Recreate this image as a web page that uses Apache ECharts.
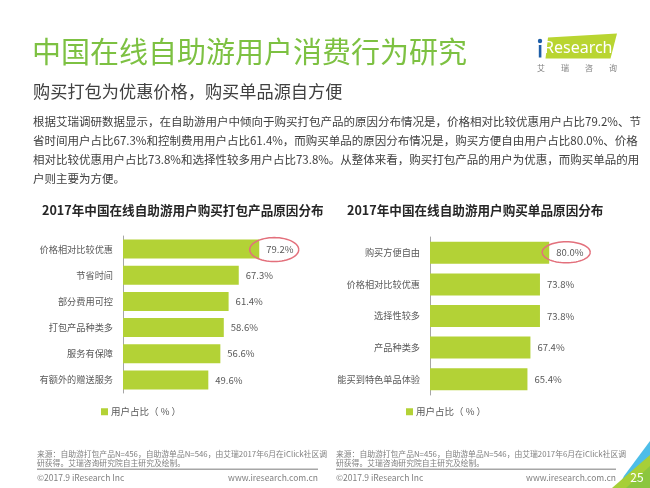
<!DOCTYPE html>
<html>
<head>
<meta charset="utf-8">
<script src="https://cdn.jsdelivr.net/npm/echarts@6/dist/echarts.min.js"></script>
<style>
html,body{margin:0;padding:0;background:#fff;}
#c{width:650px;height:488px;}
</style>
</head>
<body>
<div id="c"></div>
<script>
// ---- data ----
const pageTitle = '中国在线自助游用户消费行为研究';
const pageSubtitle = '购买打包为优惠价格，购买单品源自方便';
const bodyLines = [
  '根据艾瑞调研数据显示，在自助游用户中倾向于购买打包产品的原因分布情况是，价格相对比较优惠用户占比79.2%、节',
  '省时间用户占比67.3%和控制费用用户占比61.4%，而购买单品的原因分布情况是，购买方便自由用户占比80.0%、价格',
  '相对比较优惠用户占比73.8%和选择性较多用户占比73.8%。从整体来看，购买打包产品的用户为优惠，而购买单品的用',
  '户则主要为方便。'
];
const chartTitle1 = '2017年中国在线自助游用户购买打包产品原因分布';
const chartTitle2 = '2017年中国在线自助游用户购买单品原因分布';
const seriesName = '用户占比（ % ）';
const cats1 = ['价格相对比较优惠','节省时间','部分费用可控','打包产品种类多','服务有保障','有额外的赠送服务'];
const vals1 = [79.2, 67.3, 61.4, 58.6, 56.6, 49.6];
const cats2 = ['购买方便自由','价格相对比较优惠','选择性较多','产品种类多','能买到特色单品体验'];
const vals2 = [80.0, 73.8, 73.8, 67.4, 65.4];
const sourceLines = ['来源：自助游打包产品N=456，自助游单品N=546，由艾瑞2017年6月在iClick社区调','研获得。艾瑞咨询研究院自主研究及绘制。'];
const copyright = '©2017.9 iResearch Inc';
const website = 'www.iresearch.com.cn';
const pageNo = '25';

const FONT = '"Noto Sans CJK SC", "Noto Sans", sans-serif';
const BAR = '#b3d236';
const LABEL = '#595959';

const chart = echarts.init(document.getElementById('c'), null, {renderer:'canvas'});

function yAxisCfg(cats, gi){
  return {
    type:'category', gridIndex:gi, data:cats, inverse:true,
    axisLine:{show:true, lineStyle:{color:'#a6a6a6', width:1}},
    axisTick:{show:false},
    axisLabel:{margin:10, fontSize:9.2, color:LABEL, fontFamily:FONT}
  };
}
function seriesCfg(vals, gi, bw){
  return {
    type:'bar', name:seriesName, xAxisIndex:gi, yAxisIndex:gi, data:vals, barWidth:bw,
    itemStyle:{color:BAR},
    label:{show:true, position:'right', distance:7, fontSize:9.5, color:LABEL, fontFamily:FONT,
      formatter:p=>p.value.toFixed(1)+'%'}
  };
}
function legendCfg(left){
  return {data:[seriesName], left:left, top:407, padding:0, icon:'rect', itemWidth:7, itemHeight:7, itemGap:4,
    selectedMode:false, textStyle:{fontSize:9.5, color:LABEL, fontFamily:FONT, padding:[0,0,0,-2]}};
}

function footer(x0, x1){
  return [
    {type:'text', left:x0, top:449, style:{text:sourceLines.join('\n'), fontSize:7.8, lineHeight:9.3, fill:'#808080', fontFamily:FONT}},
    {type:'rect', shape:{x:x0, y:468.5, width:x1-x0, height:1.6}, style:{fill:'#a6a6a6'}},
    {type:'text', x:x0, y:477.5, style:{text:copyright, fontSize:8.5, fill:'#808080', fontFamily:FONT, verticalAlign:'middle'}},
    {type:'text', x:x1, y:477.5, style:{text:website, fontSize:8.5, fill:'#808080', fontFamily:FONT, align:'right', verticalAlign:'middle'}}
  ];
}

const graphics = [
  {type:'text', x:32, y:52, style:{text:pageTitle, fontSize:29, fill:'#7dc142', fontFamily:FONT, verticalAlign:'middle'}},
  {type:'text', x:33, y:91, style:{text:pageSubtitle, fontSize:17.2, fill:'#404040', fontFamily:FONT, verticalAlign:'middle'}},
  {type:'text', x:33, y:112.5, style:{text:bodyLines.join('\n'), fontSize:11.5, lineHeight:18.8, fill:'#404040', fontFamily:FONT}},
  {type:'text', x:42, y:210, style:{text:chartTitle1, fontSize:12.6, fontWeight:'bold', fill:'#262626', fontFamily:FONT, verticalAlign:'middle'}},
  {type:'text', x:347, y:210, style:{text:chartTitle2, fontSize:12.6, fontWeight:'bold', fill:'#262626', fontFamily:FONT, verticalAlign:'middle'}},
  // logo
  {type:'polygon', shape:{points:[[548,37.5],[617,33.5],[610.5,58.5],[545.5,58.5]]}, style:{fill:'#b9d531'}},
  {type:'circle', shape:{cx:540, cy:41, r:2.2}, style:{fill:'#1f5fa8'}},
  {type:'rect', shape:{x:538.8, y:45, width:2.6, height:12.5}, style:{fill:'#1f5fa8'}},
  {type:'text', x:544, y:48.5, style:{text:'Research', fontSize:16, fill:'#ffffff', fontFamily:'"Noto Sans", sans-serif', verticalAlign:'middle'}},
  {type:'text', x:541, y:68, style:{text:'艾', fontSize:8, fill:'#808080', fontFamily:FONT, align:'center', verticalAlign:'middle'}},
  {type:'text', x:565, y:68, style:{text:'瑞', fontSize:8, fill:'#808080', fontFamily:FONT, align:'center', verticalAlign:'middle'}},
  {type:'text', x:589, y:68, style:{text:'咨', fontSize:8, fill:'#808080', fontFamily:FONT, align:'center', verticalAlign:'middle'}},
  {type:'text', x:613, y:68, style:{text:'询', fontSize:8, fill:'#808080', fontFamily:FONT, align:'center', verticalAlign:'middle'}},
  // corner decoration
  {type:'polygon', shape:{points:[[624,476],[650,441],[650,488],[618,488]]}, style:{fill:'#4dbde8'}},
  {type:'polygon', shape:{points:[[612,488],[650,455],[650,488]]}, style:{fill:'#a7cf38'}},
  {type:'polygon', shape:{points:[[626,488],[650,466],[650,488]]}, style:{fill:'#8cc63f'}},
  {type:'text', x:637, y:477, style:{text:pageNo, fontSize:12, fill:'#ffffff', fontFamily:FONT, align:'center', verticalAlign:'middle'}}
].concat(footer(37, 318), footer(336, 616));

chart.setOption({
  animation:false,
  backgroundColor:'#ffffff',
  textStyle:{fontFamily:FONT},
  grid:[
    {left:123, top:236, width:172, height:157},
    {left:430, top:237, width:149, height:158}
  ],
  xAxis:[
    {type:'value', gridIndex:0, min:0, max:100, show:false},
    {type:'value', gridIndex:1, min:0, max:100, show:false}
  ],
  yAxis:[yAxisCfg(cats1,0), yAxisCfg(cats2,1)],
  legend:[legendCfg(101), legendCfg(406)],
  series:[seriesCfg(vals1,0,19), seriesCfg(vals2,1,22)],
  graphic:graphics
});

// highlight ellipses around the top values, positioned from the axes
function ellipsePts(cx, cy, rx, ry){
  const pts=[]; for(let i=0;i<=60;i++){const a=i/60*Math.PI*2; pts.push([cx+rx*Math.cos(a), cy+ry*Math.sin(a)]);} return pts;
}
const p1 = chart.convertToPixel({gridIndex:0}, [vals1[0], 0]);
const p2 = chart.convertToPixel({gridIndex:1}, [vals2[0], 0]);
chart.setOption({graphic: graphics.concat([
  {type:'polyline', shape:{points:ellipsePts(p1[0]+15, p1[1]+0.5, 24.5, 12)}, style:{stroke:'#e3707c', lineWidth:1.5, fill:null}, z:100},
  {type:'polyline', shape:{points:ellipsePts(p2[0]+17, p2[1]-0.5, 24, 10.5)}, style:{stroke:'#e3707c', lineWidth:1.5, fill:null}, z:100}
])}, {replaceMerge:['graphic']});
</script>
</body>
</html>
